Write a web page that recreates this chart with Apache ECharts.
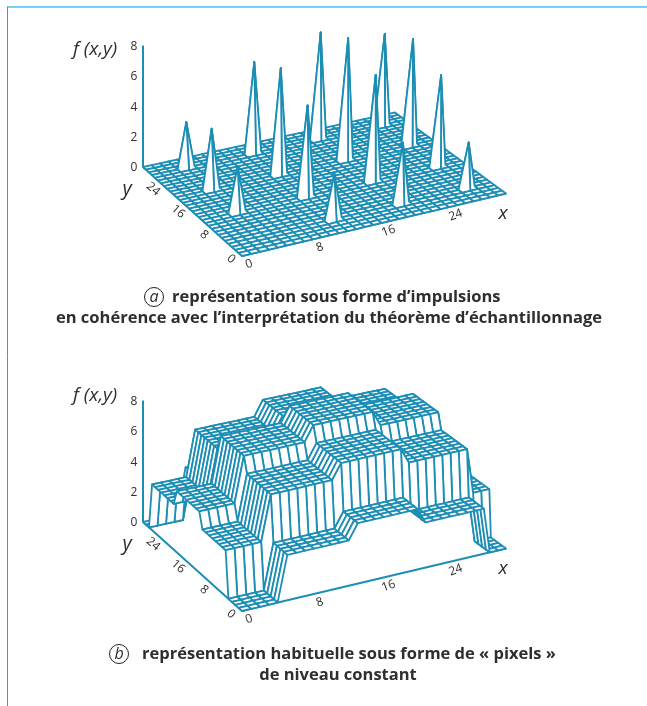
<!DOCTYPE html>
<html>
<head>
<meta charset="utf-8">
<style>
  html, body { margin: 0; padding: 0; background: #fff; }
  #chart { width: 647px; height: 706px; }
</style>
</head>
<body>
<div id="chart"></div>
<script src="https://cdn.jsdelivr.net/npm/echarts@6/dist/echarts.min.js"></script>
<script>
// valeurs
const sampleX = [4, 12, 20, 28, 36];
const sampleY = [4, 12, 20, 28, 36];
// une ligne par y, une colonne par x
const levels = [
  [0, 3, 4, 3, 0],
  [3, 6, 7, 6, 3],
  [4, 7, 8, 7, 4],
  [3, 6, 7, 6, 3],
  [0, 3, 4, 3, 0],
];
const xTicks = [0, 8, 16, 24];
const yTicks = [0, 8, 16, 24];
const zTicks = [0, 2, 4, 6, 8];
const GRID_MAX = 31;

const BLUE = "#1c8eb5";
const TEXT = "#2e2e2e";
const AXIS_FONT = "'Open Sans', 'Noto Sans', sans-serif";
const OFFSET_B = 355;

// coins du plan z=0 : (0,0), (31,0), (31,31), (0,31)
const corners = [[242, 256], [506, 193.5], [395, 112.5], [143, 167]];
const Z_SCALE = 15.2;
const LEAN = 1 / 7000;

// homographie carre unite -> quadrilatere
function makeHomography(q) {
  const dx1 = q[1][0] - q[2][0], dx2 = q[3][0] - q[2][0];
  const dy1 = q[1][1] - q[2][1], dy2 = q[3][1] - q[2][1];
  const sx = q[0][0] - q[1][0] + q[2][0] - q[3][0];
  const sy = q[0][1] - q[1][1] + q[2][1] - q[3][1];
  const den = dx1 * dy2 - dx2 * dy1;
  const g = (sx * dy2 - dx2 * sy) / den;
  const h = (dx1 * sy - sx * dy1) / den;
  return {
    a: q[1][0] - q[0][0] + g * q[1][0], b: q[3][0] - q[0][0] + h * q[3][0], c: q[0][0],
    d: q[1][1] - q[0][1] + g * q[1][1], e: q[3][1] - q[0][1] + h * q[3][1], f: q[0][1],
    g: g, h: h,
  };
}
const H = makeHomography(corners);

function project(x, y, z) {
  const s = x / GRID_MAX, t = y / GRID_MAX;
  const w = H.g * s + H.h * t + 1;
  const u = (H.a * s + H.b * t + H.c) / w;
  const v = (H.d * s + H.e * t + H.f) / w;
  const dz = z * Z_SCALE;
  return [u + dz * (u - corners[3][0]) * LEAN, v - dz];
}

// a : impulsions aux points d'echantillonnage
function impulseHeight(i, j) {
  const xi = sampleX.indexOf(i), yi = sampleY.indexOf(j);
  return xi >= 0 && yi >= 0 ? levels[yi][xi] : 0;
}
// b : niveau constant par bloc
function blockHeight(i, j) {
  const xi = sampleX.findIndex((s) => i <= s);
  const yi = sampleY.findIndex((s) => j <= s);
  return levels[yi][xi];
}

// du plus loin au plus proche pour masquer les parties cachees
function buildQuads(height) {
  const quads = [];
  for (let j = GRID_MAX - 1; j >= 0; j--) {
    for (let i = GRID_MAX - 1; i >= 0; i--) {
      quads.push([i, j, height(i, j), height(i + 1, j), height(i + 1, j + 1), height(i, j + 1)]);
    }
  }
  return quads;
}

function surfaceSeries(gridIndex, height) {
  return {
    type: "custom",
    coordinateSystem: "cartesian2d",
    xAxisIndex: gridIndex,
    yAxisIndex: gridIndex,
    silent: true,
    progressive: 0,
    z: 3,
    data: buildQuads(height),
    renderItem(params, api) {
      const i = api.value(0), j = api.value(1);
      const pts = [
        api.coord(project(i, j, api.value(2))),
        api.coord(project(i + 1, j, api.value(3))),
        api.coord(project(i + 1, j + 1, api.value(4))),
        api.coord(project(i, j + 1, api.value(5))),
      ];
      return {
        type: "polygon",
        shape: { points: pts },
        style: { fill: "#fff", stroke: BLUE, lineWidth: 1.8, lineJoin: "round" },
      };
    },
  };
}

function axisLine(gridIndex, from, to, width) {
  return {
    type: "line",
    xAxisIndex: gridIndex,
    yAxisIndex: gridIndex,
    silent: true,
    symbol: "none",
    z: 2,
    lineStyle: { color: BLUE, width: width },
    data: [project(...from), project(...to)],
  };
}

function tickLabels(gridIndex) {
  const items = [];
  xTicks.forEach((t) => items.push({ value: project(t, 0, 0), name: String(t), dx: 7, dy: 8, rot: 20 }));
  yTicks.forEach((t) => items.push({ value: project(0, t, 0), name: String(t), dx: -11, dy: 3, rot: -40 }));
  zTicks.forEach((t) => items.push({ value: project(0, GRID_MAX, t), name: String(t), dx: -9, dy: 1, rot: 0 }));
  return {
    type: "custom",
    coordinateSystem: "cartesian2d",
    xAxisIndex: gridIndex,
    yAxisIndex: gridIndex,
    silent: true,
    z: 4,
    data: items,
    renderItem(params, api) {
      const it = items[params.dataIndex];
      const p = api.coord(it.value);
      return {
        type: "text",
        x: p[0] + it.dx,
        y: p[1] + it.dy,
        rotation: (it.rot * Math.PI) / 180,
        style: {
          text: it.name,
          fill: TEXT,
          font: "12px " + AXIS_FONT,
          align: "center",
          verticalAlign: "middle",
        },
      };
    },
  };
}

function panelSeries(gridIndex, height) {
  return [
    axisLine(gridIndex, [0, GRID_MAX, 0], [0, GRID_MAX, 8], 2),
    axisLine(gridIndex, [0, 0, 0], [GRID_MAX, 0, 0], 2),
    axisLine(gridIndex, [0, 0, 0], [0, GRID_MAX, 0], 2),
    surfaceSeries(gridIndex, height),
    tickLabels(gridIndex),
  ];
}

function hiddenAxis(gridIndex, max, inverse) {
  return { type: "value", gridIndex: gridIndex, min: 0, max: max, inverse: inverse, show: false };
}

function label(text, x, y, font, align) {
  return { type: "text", x: x, y: y, style: { text: text, font: font, fill: TEXT, align: align || "left", verticalAlign: "middle" } };
}

const CAPTION = "bold 16.5px 'Open Sans', 'Noto Sans', sans-serif";
const AXIS_NAME = "italic 19px " + AXIS_FONT;

function circled(letter, x, y) {
  return [
    { type: "circle", shape: { cx: x, cy: y, r: 9.5 }, style: { fill: "none", stroke: "#222", lineWidth: 1 } },
    label(letter, x, y, "italic 16px " + AXIS_FONT, "center"),
  ];
}

const option = {
  animation: false,
  backgroundColor: "#fff",
  grid: [
    { left: 0, top: 0, width: 647, height: 350 },
    { left: 0, top: OFFSET_B, width: 647, height: 350 },
  ],
  xAxis: [hiddenAxis(0, 647, false), hiddenAxis(1, 647, false)],
  yAxis: [hiddenAxis(0, 350, true), hiddenAxis(1, 350, true)],
  series: panelSeries(0, impulseHeight).concat(panelSeries(1, blockHeight)),
  graphic: [
    { type: "line", shape: { x1: 7, y1: 7, x2: 647, y2: 7 }, style: { stroke: "#6fd3f5", lineWidth: 2 } },
    { type: "line", shape: { x1: 7.5, y1: 7, x2: 7.5, y2: 706 }, style: { stroke: "#1ea7df", lineWidth: 1 } },
    label("f (x,y)", 73, 50, AXIS_NAME),
    label("y", 127, 189, "italic 20px " + AXIS_FONT, "center"),
    label("x", 503, 214, AXIS_NAME, "center"),
    label("f (x,y)", 73, 396, AXIS_NAME),
    label("y", 127, 189 + OFFSET_B, "italic 20px " + AXIS_FONT, "center"),
    label("x", 503, 214 + OFFSET_B, AXIS_NAME, "center"),
    ...circled("a", 154, 297),
    label("représentation sous forme d’impulsions", 172, 297, CAPTION),
    label("en cohérence avec l’interprétation du théorème d’échantillonnage", 329, 318, CAPTION, "center"),
    ...circled("b", 119, 654),
    label("représentation habituelle sous forme de « pixels »", 142, 654, CAPTION),
    label("de niveau constant", 338, 675, CAPTION, "center"),
  ],
};

const myChart = echarts.init(document.getElementById("chart"));
myChart.setOption(option);
</script>
</body>
</html>
